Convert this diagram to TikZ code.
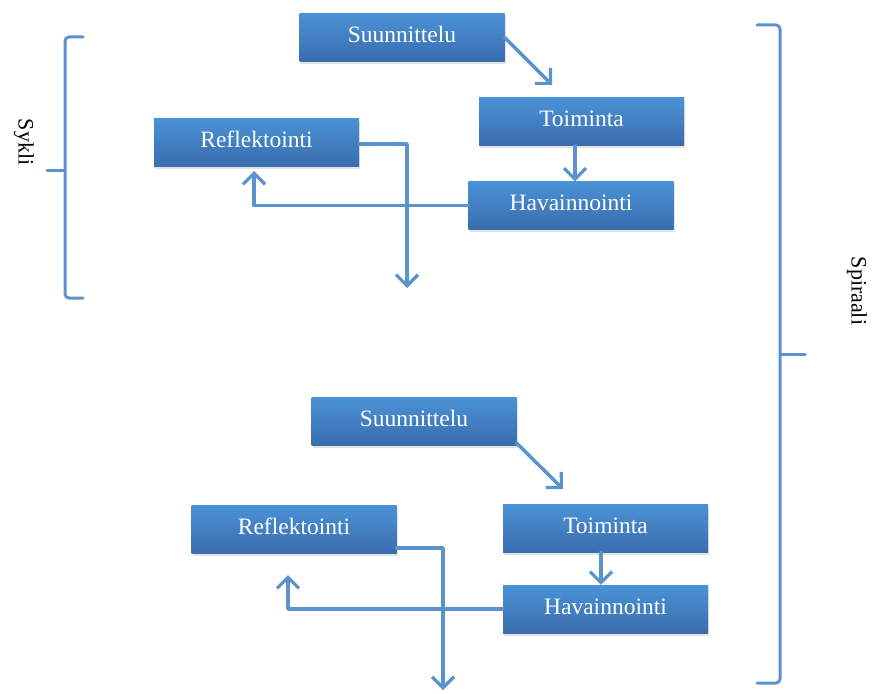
\documentclass[tikz,border=0pt]{standalone}
\usepackage{fontspec}
\setmainfont{Liberation Serif}
\usetikzlibrary{arrows.meta,shadows,calc}
\definecolor{linecol}{HTML}{5B93CD}
\definecolor{boxtop}{HTML}{4A92D6}
\definecolor{boxbot}{HTML}{3A6DAE}
\tikzset{
  box/.style={rectangle, minimum width=205pt, minimum height=48pt, inner sep=0pt,
    text height=16pt, text depth=6pt,
    top color=boxtop, bottom color=boxbot, text=white,
    font=\fontsize{23.5}{27}\selectfont,
    drop shadow={opacity=0.22, shadow xshift=1pt, shadow yshift=-2.5pt}},
  conn/.style={draw=linecol, line width=3.5pt, line cap=round, line join=round,
    -{Straight Barb[length=11pt,width=22pt,line width=3.2pt]}},
  brace/.style={draw=linecol, line width=3pt, rounded corners=4pt, line cap=round},
  side/.style={font=\fontsize{22}{26}\selectfont, rotate=-90}
}
\begin{document}
\begin{tikzpicture}[x=1pt,y=-1pt]
\useasboundingbox (0,0) rectangle (872,693);
% top cycle
\node[box] (S1) at (402,37.5) {Suunnittelu};
\node[box] (T1) at (581.5,121.5) {Toiminta};
\node[box] (H1) at (571,205.5) {Havainnointi};
\node[box] (R1) at (256.5,142) {Reflektointi};
\coordinate (a1) at (552,85);
\coordinate (t1) at (575,146);
\coordinate (r1) at (254,171);
\coordinate (d1) at (407,288);
\draw[conn] (S1.east) -- (a1);
\draw[conn] (t1) -- (t1 |- H1.north);
\draw[conn] (H1.west) -| (r1);
\draw[conn] ($(R1.east)+(0,2)$) -| (d1);
% bottom cycle
\node[box] (S2) at (414,421) {Suunnittelu};
\node[box] (T2) at (605.5,528.5) {Toiminta};
\node[box] (H2) at (605.5,609) {Havainnointi};
\node[box] (R2) at (294,529) {Reflektointi};
\coordinate (a2) at (563,489);
\coordinate (t2) at (601,552.5);
\coordinate (r2) at (288,575);
\coordinate (d2) at (443,690);
\draw[conn] ($(S2.south east)+(0,-2)$) -- (a2);
\draw[conn] (t2) -- (t2 |- H2.north);
\draw[conn] (H2.west) -| (r2);
\draw[conn] ($(R2.east)+(0,19)$) -| (d2);
% braces
\draw[brace] (83,37) -- (65,37) -- (65,298) -- (83,298);
\draw[brace] (65,170) -- (47,170);
\draw[brace] (757,25) -- (780,25) -- (780,683) -- (757,683);
\draw[brace] (780,354) -- (805,354);
\node[side] (sykli) at (24,142) {Sykli};
\node[side] (spiraali) at (857,291) {Spiraali};
\end{tikzpicture}
\end{document}
